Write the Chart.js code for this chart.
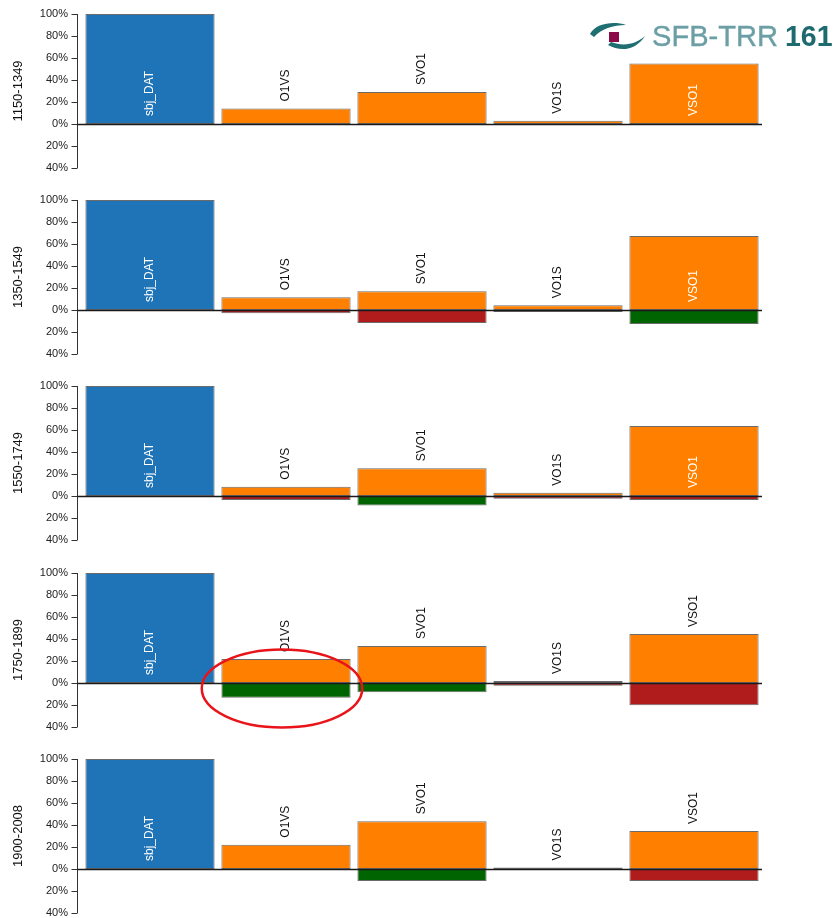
<!DOCTYPE html>
<html>
<head>
<meta charset="utf-8">
<script src="https://cdn.jsdelivr.net/npm/chart.js@4.4.1/dist/chart.umd.min.js"></script>
<style>
  html, body { margin: 0; padding: 0; background: #fff; overflow: hidden; }
  #wrap { position: relative; width: 838px; height: 918px; }
  #wrap canvas { position: absolute; left: 0; }
  #logo { position: absolute; left: 0; top: 0; width: 838px; height: 60px; pointer-events: none; }
  #logo svg { position: absolute; left: 588px; top: 21px; }
  #logo span { position: absolute; top: 21px; font-family: "Liberation Sans", Arial, Helvetica, sans-serif; font-size: 30px; line-height: 30px; white-space: nowrap; transform-origin: 0 0; }
  #logo .sfb { left: 652px; color: #6b9fa5; transform: scaleX(0.97); -webkit-text-stroke: 0.4px #6b9fa5; }
  #logo .num { left: 785px; color: #1d6b6f; font-weight: bold; transform: scaleX(0.95); }
</style>
</head>
<body>
<div id="wrap">
  <canvas id="panel0" width="838" height="186" style="top:0px"></canvas>
  <canvas id="panel1" width="838" height="186" style="top:186px"></canvas>
  <canvas id="panel2" width="838" height="186" style="top:372px"></canvas>
  <canvas id="panel3" width="838" height="186" style="top:559px"></canvas>
  <canvas id="panel4" width="838" height="186" style="top:745px"></canvas>
  <div id="logo">
    <svg width="60" height="32" viewBox="0 0 60 32">
      <path d="M2,13 C8,2 26,0 38,4 C25,4 13,8 6,16 Z" fill="#1f6f72"/>
      <rect x="21" y="11" width="10" height="10" fill="#8a0b48"/>
      <path d="M20,24 C34,32 49,28 57,15 C48,23 36,26 23,21 Z" fill="#1f6f72"/>
    </svg>
    <span class="sfb">SFB-TRR</span><span class="num">161</span>
  </div>
</div>
<script>
// Word-order shares per period (percent of the sbj_DAT baseline)
const periods = ['1150-1349', '1350-1549', '1550-1749', '1750-1899', '1900-2008'];
const orders = ['sbj_DAT', 'O1VS', 'SVO1', 'VO1S', 'VSO1'];
const refOrder = 'sbj_DAT';

const share1150 = [100, 14, 29, 3, 55];
const share1350 = [100, 11.5, 17, 4.3, 67.3];
const share1550 = [100, 8.4, 25.2, 3, 63.6];
const share1750 = [100, 21.8, 33.6, 1.8, 44.5];
const share1900 = [100, 22.1, 43.3, 1.3, 34.5];

// Change against the previous period (gain > 0, loss < 0), drawn below the axis
const change1150 = [0, 0, 0, 0, 0];
const change1350 = [0, -3, -11.8, 1.8, 12.7];
const change1550 = [0, -3.6, 8.7, -2.4, -3.6];
const change1750 = [0, 13.3, 8.5, -2.4, -20.3];
const change1900 = [0, 0, 10.9, 0, -10.9];

const yTicks = [-40, -20, 0, 20, 40, 60, 80, 100];

// Circled cell
const highlight = { period: '1750-1899', order: 'O1VS' };

const shares = [share1150, share1350, share1550, share1750, share1900];
const changes = [change1150, change1350, change1550, change1750, change1900];

const BLUE = '#1f74b8';
const ORANGE = '#ff8000';
const GAIN = '#006400';
const LOSS = '#b01c1c';
const EDGE = 'rgba(70,70,70,0.8)';
const FONT = '"Liberation Sans", Arial, Helvetica, sans-serif';
const insideMin = 50;

const panelPlugin = {
  id: 'panelDecor',
  afterDatasetsDraw(chart, args, opts) {
    const { ctx, chartArea, scales: { x, y } } = chart;
    const ax = chartArea.left - 4.5;
    const yTop = y.getPixelForValue(Math.max(...yTicks));
    const yBot = y.getPixelForValue(Math.min(...yTicks));
    ctx.save();
    // y axis line and tick marks
    ctx.strokeStyle = '#333';
    ctx.lineWidth = 1;
    ctx.beginPath();
    ctx.moveTo(ax, yTop);
    ctx.lineTo(ax, yBot);
    yTicks.forEach(v => {
      const py = Math.round(y.getPixelForValue(v)) + 0.5;
      ctx.moveTo(ax - 6, py);
      ctx.lineTo(ax, py);
    });
    ctx.stroke();
    // zero line
    const y0 = Math.round(y.getPixelForValue(0)) + 0.5;
    ctx.strokeStyle = '#1a1a1a';
    ctx.lineWidth = 1.3;
    ctx.beginPath();
    ctx.moveTo(ax, y0);
    ctx.lineTo(chartArea.right, y0);
    ctx.stroke();

    // rotated category labels
    const meta = chart.getDatasetMeta(0);
    const vals = chart.data.datasets[0].data;
    ctx.font = '12px ' + FONT;
    ctx.textAlign = 'left';
    ctx.textBaseline = 'middle';
    meta.data.forEach((el, i) => {
      const v = vals[i];
      const inside = v >= insideMin;
      const startY = inside ? el.base - 8 : el.y - 7;
      ctx.save();
      ctx.translate(el.x, startY);
      ctx.rotate(-Math.PI / 2);
      ctx.fillStyle = inside ? '#ffffff' : '#111111';
      ctx.fillText(chart.data.labels[i], 0, 0);
      ctx.restore();
    });

    // highlight ring
    if (opts.ring) {
      const idx = chart.data.labels.indexOf(opts.ring);
      const band = (chartArea.right - chartArea.left) / chart.data.labels.length;
      const cx = x.getPixelForValue(idx) - 4;
      const cy = y.getPixelForValue(-5);
      ctx.strokeStyle = '#e8141a';
      ctx.lineWidth = 2.5;
      ctx.beginPath();
      ctx.ellipse(cx, cy, band * 0.59, 39, 0, 0, Math.PI * 2);
      ctx.stroke();
    }
    ctx.restore();
  }
};

function makePanel(id, period, share, change) {
  const ring = period === highlight.period ? highlight.order : null;
  new Chart(document.getElementById(id), {
    type: 'bar',
    data: {
      labels: orders,
      datasets: [
        {
          data: share,
          backgroundColor: orders.map(o => o === refOrder ? BLUE : ORANGE),
          borderColor: EDGE,
          borderWidth: 1,
          borderSkipped: false,
          barPercentage: 0.95,
          categoryPercentage: 1
        },
        {
          data: change.map(c => c === 0 ? null : -Math.abs(c)),
          backgroundColor: change.map(c => c > 0 ? GAIN : LOSS),
          borderColor: EDGE,
          borderWidth: 1,
          borderSkipped: false,
          barPercentage: 0.95,
          categoryPercentage: 1
        }
      ]
    },
    options: {
      responsive: false,
      animation: false,
      devicePixelRatio: 1,
      layout: { padding: { top: 14, bottom: 18, left: 0, right: 76 } },
      plugins: {
        legend: { display: false },
        tooltip: { enabled: false },
        panelDecor: { ring }
      },
      scales: {
        x: { type: 'category', display: false, stacked: true, offset: true },
        y: {
          min: -40,
          max: 100,
          stacked: true,
          afterBuildTicks: s => { s.ticks = yTicks.map(v => ({ value: v })); },
          afterFit: s => {
            s.width = 82;
            s.paddingTop = 0;
            s.paddingBottom = 0;
          },
          grid: { display: false, drawTicks: false },
          border: { display: false },
          ticks: {
            padding: 14,
            color: '#222',
            font: { family: FONT, size: 11 },
            callback: v => Math.abs(v) + '%'
          },
          title: {
            display: true,
            text: period,
            color: '#111',
            font: { family: FONT, size: 13 },
            padding: { top: 11, bottom: 0 }
          }
        }
      }
    },
    plugins: [panelPlugin]
  });
}

periods.forEach((p, i) => makePanel('panel' + i, p, shares[i], changes[i]));
</script>
</body>
</html>
